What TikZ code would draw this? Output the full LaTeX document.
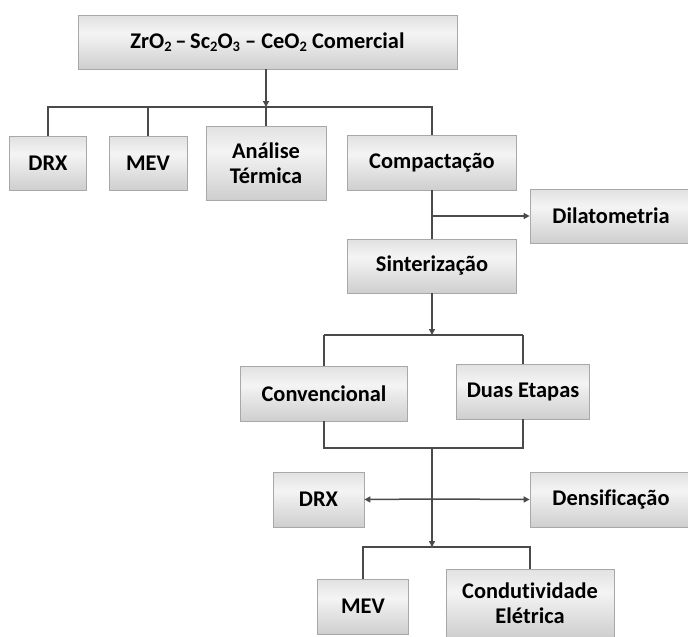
\documentclass[tikz,border=0pt]{standalone}
\usepackage{fontspec}
\setmainfont[Ligatures={NoCommon}]{Carlito}
\usetikzlibrary{arrows.meta}
\definecolor{shtop}{HTML}{C6C6C6}
\definecolor{shmid}{HTML}{F4F4F4}
\definecolor{shbot}{HTML}{B2B2B2}
\definecolor{linec}{HTML}{4A4A4A}
\definecolor{borderc}{HTML}{A8A8A8}
\pgfdeclareverticalshading{boxshade}{100bp}{color(0bp)=(shbot); color(58bp)=(shmid); color(100bp)=(shtop)}
\newcommand{\chemsub}[1]{\raisebox{-0.3ex}{\fontsize{14.5}{14.5}\selectfont #1}}
\tikzset{
  box/.style={rectangle, shading=boxshade, draw=borderc, line width=0.7pt,
    font=\fontsize{22.4}{24.5}\selectfont\bfseries, align=center, inner sep=0pt},
  conn/.style={draw=linec, line width=1.5pt},
  arr/.style={conn, -{Triangle[length=6pt,width=6pt]}}
}
\begin{document}
\begin{tikzpicture}[x=1pt,y=-1pt]
\useasboundingbox (0,0) rectangle (688,637);
% nodes
\node[box, minimum width=379pt, minimum height=54pt] (top) at (267.5,42) {ZrO\chemsub{2}\,--\,Sc\chemsub{2}O\chemsub{3} -- CeO\chemsub{2} Comercial};
\node[box, minimum width=77pt, minimum height=54pt] (drxa) at (48,163) {DRX};
\node[box, minimum width=78pt, minimum height=54pt] (meva) at (148,163) {MEV};
\node[box, minimum width=120pt, minimum height=74pt] (ana) at (266,163) {Análise\\Térmica};
\node[box, minimum width=169pt, minimum height=55pt] (comp) at (432,162.5) {Compactação};
\node[box, minimum width=162pt, minimum height=54pt] (dil) at (611,216) {Dilatometria};
\node[box, minimum width=169pt, minimum height=54pt] (sint) at (432,266) {Sinterização};
\node[box, minimum width=167pt, minimum height=55pt] (conv) at (324,393.5) {Convencional};
\node[box, minimum width=133pt, minimum height=55pt] (duas) at (523,391.5) {Duas Etapas};
\node[box, minimum width=91pt, minimum height=55pt] (drxb) at (318.5,499.5) {DRX};
\node[box, minimum width=162pt, minimum height=55pt] (dens) at (611,499.5) {Densificação};
\node[box, minimum width=91pt, minimum height=55pt] (mevb) at (363,606.5) {MEV};
\node[box, minimum width=168pt, minimum height=68pt] (cond) at (530,603) {Condutividade\\Elétrica};
% junction coordinates
\coordinate (j1) at (266,107);
\coordinate (j2) at (432,216);
\coordinate (j3) at (432,335);
\coordinate (j4) at (432,448);
\coordinate (j5) at (432,499);
\coordinate (j6) at (432,547);
% connectors
\draw[arr] (top.south -| j1) -- (j1);
\draw[conn] (drxa.north) |- (j1) -| (comp.north);
\draw[conn] (meva.north) -- (meva.north |- j1);
\draw[conn] (j1) -- (ana.north);
\draw[conn] (comp.south) -- (sint.north);
\draw[arr] (j2) -- (dil.west);
\draw[arr] (sint.south) -- (j3);
\draw[conn] (conv.north |- j3) -- (duas.north |- j3);
\draw[conn] (conv.north |- j3) -- (conv.north);
\draw[conn] (duas.north |- j3) -- (duas.north);
\draw[conn] (conv.south) |- (j4) -| (duas.south);
\draw[arr] (j4) -- (j6);
\draw[arr] (j5) -- (drxb.east);
\draw[arr] (j5) -- (dens.west);
\draw[conn] (mevb.north) |- (j6) -| (cond.north);
\end{tikzpicture}
\end{document}
